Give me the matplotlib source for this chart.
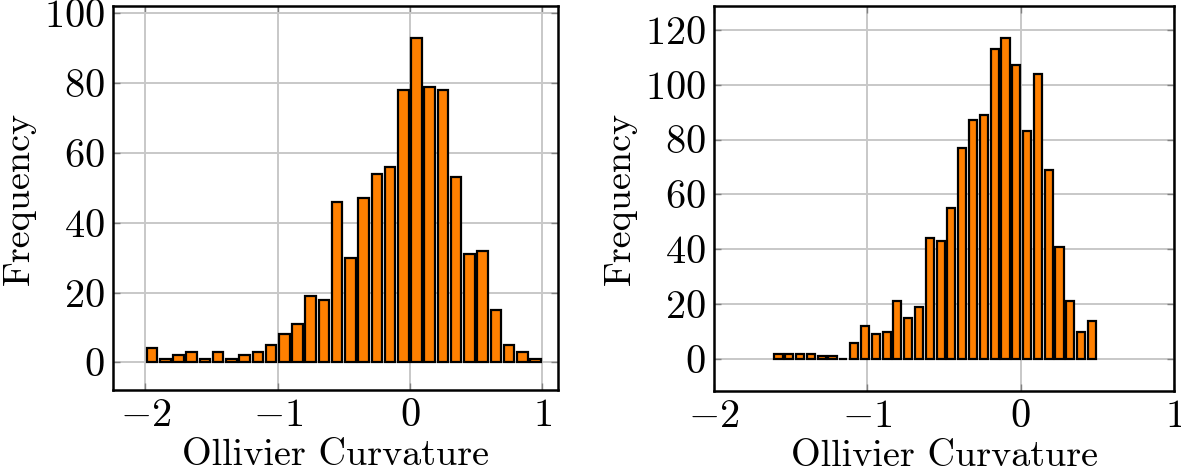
import matplotlib
matplotlib.use("Agg")
import matplotlib.pyplot as plt
import numpy as np

plt.rcParams["font.family"] = "serif"
plt.rcParams["font.serif"] = ["cmr10"]
plt.rcParams["mathtext.fontset"] = "cm"
plt.rcParams["axes.formatter.use_mathtext"] = True
plt.rcParams["axes.unicode_minus"] = True

# left histogram: bins of width 0.1 from -2 to 1
left_edges = np.arange(-2.0, 1.0, 0.1)
left_counts = [4, 1, 2, 3, 1, 3, 1, 2, 3, 5,
               8, 11, 19, 18, 46, 30, 47, 54, 56, 78,
               93, 79, 78, 53, 31, 32, 15, 5, 3, 1]

# right histogram: 30 bins between about -1.615 and 0.5
right_lo, right_hi = -1.615, 0.5
right_counts = [2, 2, 2, 2, 1, 1, 0, 6, 12, 9,
                10, 21, 15, 19, 44, 43, 55, 77, 87, 89,
                113, 117, 107, 83, 104, 69, 41, 21, 10, 14]

fill = "#ff8000"
fs = 29


def draw(ax, centers, counts, width, xlim, ylim, yticks):
    ax.bar(centers, counts, width=width, color=fill, edgecolor="black",
           linewidth=1.6, zorder=3)
    ax.set_xlim(*xlim)
    ax.set_ylim(*ylim)
    ax.set_xticks([-2, -1, 0, 1])
    ax.set_yticks(yticks)
    ax.grid(True, color="#c8c8c8", linewidth=1.4, zorder=0)
    ax.set_axisbelow(True)
    ax.tick_params(direction="in", top=True, right=True, length=5,
                   width=1.0, color="#808080", labelsize=fs, pad=6)
    for s in ax.spines.values():
        s.set_linewidth(1.8)
    ax.set_xlabel("Ollivier Curvature", fontsize=27.5, labelpad=3)
    ax.set_ylabel("Frequency", fontsize=27.5, labelpad=6)


fig = plt.figure(figsize=(11.81, 4.71), dpi=100)

ax1 = fig.add_axes([0.0957, 0.172, 0.3768, 0.8153])
w1 = 0.1
draw(ax1, left_edges + w1 / 2, left_counts, w1 * 0.8,
     (-2.245, 1.12), (-7.9, 102.1), range(0, 101, 20))

ax2 = fig.add_axes([0.6046, 0.170, 0.3895, 0.8174])
w2 = (right_hi - right_lo) / len(right_counts)
right_centers = right_lo + w2 * (np.arange(len(right_counts)) + 0.5)
draw(ax2, right_centers, right_counts, w2 * 0.75,
     (-2.0, 1.0), (-11.6, 128.7), range(0, 121, 20))

fig.savefig("out.png", dpi=100)
